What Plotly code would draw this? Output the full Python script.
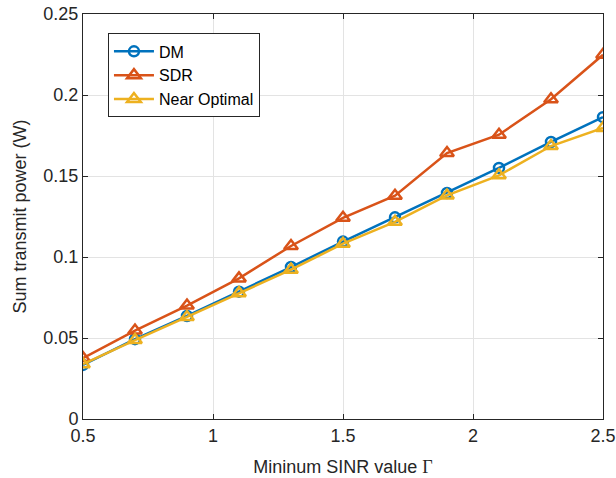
import plotly.graph_objects as go

gamma = [0.5, 0.7, 0.9, 1.1, 1.3, 1.5, 1.7, 1.9, 2.1, 2.3, 2.5]
dm = [0.0334, 0.0493, 0.0636, 0.0786, 0.0938, 0.1095, 0.1245, 0.1395, 0.1550, 0.1710, 0.1863]
sdr = [0.0376, 0.0546, 0.0700, 0.0868, 0.1068, 0.1242, 0.1378, 0.1642, 0.1755, 0.1974, 0.2248]
near_opt = [0.0338, 0.0487, 0.0630, 0.0777, 0.0922, 0.1082, 0.1217, 0.1380, 0.1504, 0.1685, 0.1796]

x_ticks = [0.5, 1, 1.5, 2, 2.5]
x_ticklabels = ["0.5", "1", "1.5", "2", "2.5"]
y_ticks = [0, 0.05, 0.1, 0.15, 0.2, 0.25]
y_ticklabels = ["0", "0.05", "0.1", "0.15", "0.2", "0.25"]

colors = ["#0072BD", "#D95319", "#EDB120"]
FONT = "Liberation Sans, Arial, sans-serif"
TXT = "#262626"

fig = go.Figure()
fig.add_trace(go.Scatter(x=gamma, y=dm, name="DM", mode="lines+markers",
                         line=dict(color=colors[0], width=2.5),
                         marker=dict(symbol="circle-open", size=10, line=dict(width=2.5, color=colors[0]))))
fig.add_trace(go.Scatter(x=gamma, y=sdr, name="SDR", mode="lines+markers",
                         line=dict(color=colors[1], width=2.5),
                         marker=dict(symbol="triangle-up-open", size=12, line=dict(width=2.5, color=colors[1]))))
fig.add_trace(go.Scatter(x=gamma, y=near_opt, name="Near Optimal", mode="lines+markers",
                         line=dict(color=colors[2], width=2.5),
                         marker=dict(symbol="triangle-up-open", size=12, line=dict(width=2.5, color=colors[2]))))

axis_common = dict(showline=True, linecolor=TXT, linewidth=1, mirror="ticks",
                   ticks="inside", ticklen=5, tickcolor=TXT, automargin=False,
                   showgrid=True, gridcolor="#e3e3e3", gridwidth=1, zeroline=False,
                   ticklabeloverflow="allow",
                   tickfont=dict(family=FONT, size=18, color=TXT))

fig.update_layout(
    width=616, height=478,
    margin=dict(l=83, r=13, t=14, b=59, autoexpand=False),
    paper_bgcolor="white", plot_bgcolor="white",
    font=dict(family=FONT, color=TXT),
    xaxis=dict(range=[0.5, 2.5], tickvals=x_ticks, ticktext=x_ticklabels,
               title=dict(text="Mininum SINR value <span style=\"font-family:'Liberation Serif', serif\">Γ</span>",
                          font=dict(family=FONT, size=18, color=TXT), standoff=15),
               **axis_common),
    yaxis=dict(range=[0, 0.25], tickvals=y_ticks, ticktext=y_ticklabels,
               title=dict(text="Sum transmit power (W)", font=dict(family=FONT, size=18, color=TXT), standoff=12),
               **axis_common),
    legend=dict(x=0.048, y=0.952, xanchor="left", yanchor="top",
                bgcolor="white", bordercolor=TXT, borderwidth=1,
                font=dict(family=FONT, size=16, color="black"),
                tracegroupgap=0, itemwidth=40),
    showlegend=True,
)

fig.write_html("out.html", config={"displayModeBar": False},
               post_script="document.body.style.margin='0';")
